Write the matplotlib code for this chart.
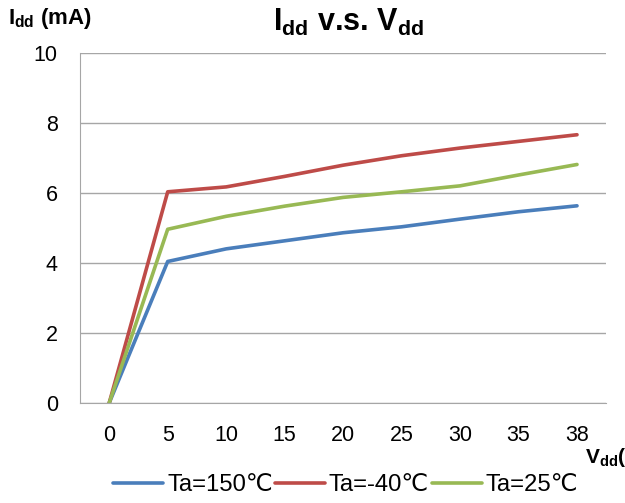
import numpy as np
import matplotlib
matplotlib.use('Agg')
import matplotlib.pyplot as plt

plt.rcParams['font.family'] = ['Liberation Sans', 'DejaVu Sans']
plt.rcParams['mathtext.fontset'] = 'custom'
plt.rcParams['mathtext.rm'] = 'Liberation Sans'
plt.rcParams['mathtext.bf'] = 'Liberation Sans:bold'

# data
vdd_labels = ['0', '5', '10', '15', '20', '25', '30', '35', '38']
idd_150 = [0, 4.04, 4.40, 4.63, 4.86, 5.03, 5.25, 5.46, 5.63]
idd_m40 = [0, 6.03, 6.17, 6.47, 6.79, 7.06, 7.28, 7.47, 7.66]
idd_25 = [0, 4.96, 5.33, 5.62, 5.87, 6.03, 6.20, 6.51, 6.81]
series_names = ['Ta=150\u2103', 'Ta=-40\u2103', 'Ta=25\u2103']
colors = ['#4A7EBB', '#BE4B48', '#98B954']

fig = plt.figure(figsize=(6.25, 5.03), dpi=100)
ax = fig.add_axes([0.128, 0.199, 0.842, 0.696])

x = np.arange(len(vdd_labels))
lines = []
for ys, name, c in zip([idd_150, idd_m40, idd_25], series_names, colors):
    ln, = ax.plot(x, ys, color=c, linewidth=2.6, label=name, solid_capstyle='round')
    lines.append(ln)

ax.set_xlim(-0.5, len(vdd_labels) - 0.5)
ax.set_ylim(0, 10)
ax.set_yticks(np.arange(0, 11, 2))
ax.set_xticks(x)
ax.set_xticklabels(vdd_labels)
ax.tick_params(axis='both', length=0, labelsize=15.5)
ax.tick_params(axis='x', pad=16)
ax.tick_params(axis='y', pad=16)
ax.grid(axis='y', color='#A6A6A6', linewidth=1)
ax.set_axisbelow(True)
for s in ['top', 'right']:
    ax.spines[s].set_visible(False)
ax.spines['left'].set_color('#A6A6A6')
ax.spines['bottom'].set_color('#A6A6A6')

fig.text(0.557, 0.956, r'$\mathbf{I_{dd}}$ v.s. $\mathbf{V_{dd}}$', fontsize=22,
         fontweight='bold', ha='center', va='center')
fig.text(0.012, 0.964, r'$\mathbf{I_{dd}}$ (mA)', fontsize=16, fontweight='bold',
         ha='left', va='center')
fig.text(0.936, 0.09, r'$\mathbf{V_{dd}}$(V)', fontsize=15, fontweight='bold',
         ha='left', va='center')

fig.legend(handles=lines, loc='center', bbox_to_anchor=(0.553, 0.036), ncol=3,
           frameon=False, fontsize=17.2, handlelength=2.1, handletextpad=0.15,
           columnspacing=0.1, borderpad=0, borderaxespad=0)

fig.savefig('out.png', dpi=100)
